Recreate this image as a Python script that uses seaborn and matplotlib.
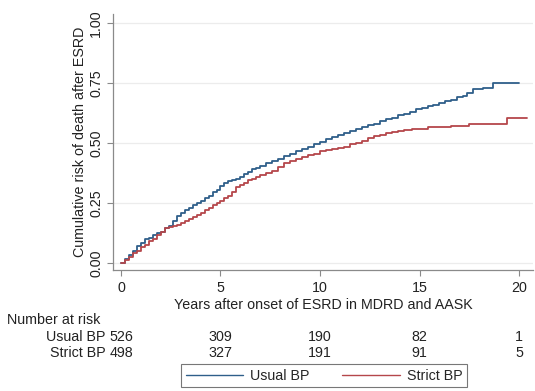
import matplotlib
matplotlib.use("Agg")
import matplotlib.pyplot as plt
import pandas as pd
import seaborn as sns

# Kaplan-Meier style cumulative risk
usual_years = [0, 0.2, 0.4, 0.6, 0.8, 1.0, 1.2, 1.4, 1.6, 1.8, 2.0, 2.2, 2.4,
               2.6, 2.8, 3.0, 3.2, 3.4, 3.6, 3.8, 4.0, 4.2, 4.4, 4.6, 4.8, 5.0,
               5.2, 5.4, 5.6, 5.8, 6.0, 6.2, 6.4, 6.6, 6.8, 7.0, 7.3, 7.6, 7.9,
               8.2, 8.5, 8.8, 9.1, 9.4, 9.7, 10.0, 10.3, 10.6, 10.9, 11.2, 11.5,
               11.8, 12.1, 12.4, 12.7, 13.0, 13.3, 13.6, 13.9, 14.2, 14.5, 14.8,
               15.1, 15.4, 15.7, 16.0, 16.3, 16.6, 16.9, 17.2, 17.4, 17.7, 18.2,
               18.7, 20.0]
usual_risk = [0, 0.015, 0.035, 0.05, 0.07, 0.085, 0.10, 0.105, 0.115, 0.125,
              0.13, 0.145, 0.155, 0.175, 0.195, 0.21, 0.22, 0.23, 0.24, 0.25,
              0.26, 0.27, 0.28, 0.295, 0.305, 0.32, 0.335, 0.34, 0.345, 0.35,
              0.36, 0.37, 0.38, 0.39, 0.395, 0.405, 0.415, 0.425, 0.435, 0.445,
              0.455, 0.465, 0.475, 0.485, 0.495, 0.505, 0.515, 0.525, 0.535,
              0.54, 0.55, 0.56, 0.565, 0.575, 0.58, 0.59, 0.60, 0.605, 0.615,
              0.62, 0.63, 0.64, 0.645, 0.655, 0.66, 0.665, 0.675, 0.68, 0.69,
              0.695, 0.71, 0.725, 0.73, 0.75, 0.75]

strict_years = [0, 0.2, 0.4, 0.6, 0.8, 1.0, 1.2, 1.4, 1.6, 1.8, 2.0, 2.2, 2.4,
                2.6, 2.8, 3.0, 3.2, 3.4, 3.6, 3.8, 4.0, 4.2, 4.4, 4.6, 4.8, 5.0,
                5.2, 5.4, 5.6, 5.8, 6.0, 6.2, 6.4, 6.6, 6.8, 7.0, 7.3, 7.6, 7.9,
                8.2, 8.5, 8.8, 9.1, 9.4, 9.7, 10.0, 10.3, 10.6, 10.9, 11.2, 11.5,
                11.8, 12.1, 12.4, 12.7, 13.0, 13.3, 13.6, 13.9, 14.2, 14.6, 15.0,
                15.4, 16.0, 16.6, 17.5, 19.4, 20.4]
strict_risk = [0, 0.012, 0.025, 0.04, 0.05, 0.065, 0.075, 0.09, 0.10, 0.115,
               0.13, 0.145, 0.15, 0.155, 0.16, 0.165, 0.175, 0.185, 0.19, 0.20,
               0.21, 0.22, 0.23, 0.24, 0.25, 0.26, 0.27, 0.28, 0.295, 0.315,
               0.325, 0.335, 0.345, 0.35, 0.36, 0.365, 0.375, 0.385, 0.40, 0.415,
               0.425, 0.435, 0.44, 0.45, 0.455, 0.465, 0.47, 0.475, 0.48, 0.485,
               0.495, 0.50, 0.51, 0.52, 0.53, 0.535, 0.54, 0.545, 0.55, 0.555,
               0.56, 0.56, 0.565, 0.567, 0.572, 0.58, 0.605, 0.605]

risk_times = [0, 5, 10, 15, 20]
usual_at_risk = [526, 309, 190, 82, 1]
strict_at_risk = [498, 327, 191, 91, 5]

BLUE = "#2f5f8a"
RED = "#b5474b"
FS = 10.3

df = pd.concat([
    pd.DataFrame({"years": usual_years, "risk": usual_risk, "group": "Usual BP"}),
    pd.DataFrame({"years": strict_years, "risk": strict_risk, "group": "Strict BP"}),
])

sns.set_theme(style="white")
plt.rcParams["font.family"] = ["Liberation Sans", "DejaVu Sans"]

fig = plt.figure(figsize=(5.35, 3.91), dpi=100)
ax = fig.add_axes([113 / 535, 1 - 270 / 391, 420 / 535, 256 / 391])

sns.lineplot(data=df, x="years", y="risk", hue="group",
             palette={"Usual BP": BLUE, "Strict BP": RED},
             estimator=None, drawstyle="steps-post", linewidth=1.3,
             legend=False, ax=ax)

ax.set_xlim(-0.4, 20.7)
ax.set_ylim(-0.029, 1.0375)
ax.set_xticks([0, 5, 10, 15, 20])
ax.set_yticks([0, 0.25, 0.5, 0.75, 1.0])
ax.set_yticklabels(["0.00", "0.25", "0.50", "0.75", "1.00"], rotation=90, va="center")
ax.yaxis.grid(True, color="#ececec", linewidth=0.9)
ax.set_axisbelow(True)
for side in ["top", "right"]:
    ax.spines[side].set_visible(False)
for side in ["left", "bottom"]:
    ax.spines[side].set_color("#8a8a8a")
    ax.spines[side].set_linewidth(0.9)
ax.tick_params(axis="both", which="major", direction="out", length=4, width=0.8,
               color="#8a8a8a", labelsize=FS, labelcolor="#222222", pad=3,
               left=True, bottom=True)
ax.tick_params(axis="x", pad=4)
ax.set_xlabel("Years after onset of ESRD in MDRD and AASK", fontsize=FS,
              color="#222222", labelpad=2)
ax.set_ylabel("Cumulative risk of death after ESRD", fontsize=FS,
              color="#222222", labelpad=2)

# number-at-risk table under the axis
trans = ax.get_xaxis_transform()
fig.text(7 / 535, 1 - 320 / 391, "Number at risk", fontsize=FS, color="#222222",
         va="center", ha="left")
fig.text(106 / 535, 1 - 337 / 391, "Usual BP", fontsize=FS, color="#222222",
         va="center", ha="right")
fig.text(106 / 535, 1 - 353 / 391, "Strict BP", fontsize=FS, color="#222222",
         va="center", ha="right")
y_usual = (391 - 337 - (391 - 270)) / 256
y_strict = (391 - 353 - (391 - 270)) / 256
for t, u, s in zip(risk_times, usual_at_risk, strict_at_risk):
    ax.text(t, y_usual, str(u), transform=trans, ha="center", va="center",
            fontsize=FS, color="#222222", clip_on=False)
    ax.text(t, y_strict, str(s), transform=trans, ha="center", va="center",
            fontsize=FS, color="#222222", clip_on=False)

handles = [plt.Line2D([], [], color=BLUE, linewidth=1.0),
           plt.Line2D([], [], color=RED, linewidth=1.0)]
leg = fig.legend(handles, ["Usual BP", "Strict BP"], loc="lower center",
                 bbox_to_anchor=(324 / 535, -0.008), ncol=2, frameon=True,
                 fancybox=False, fontsize=FS, handlelength=4.0, columnspacing=2.3,
                 borderpad=0.3, handletextpad=0.5)
leg.get_frame().set_edgecolor("#555555")
leg.get_frame().set_linewidth(0.8)

fig.savefig("out.png", dpi=100)
